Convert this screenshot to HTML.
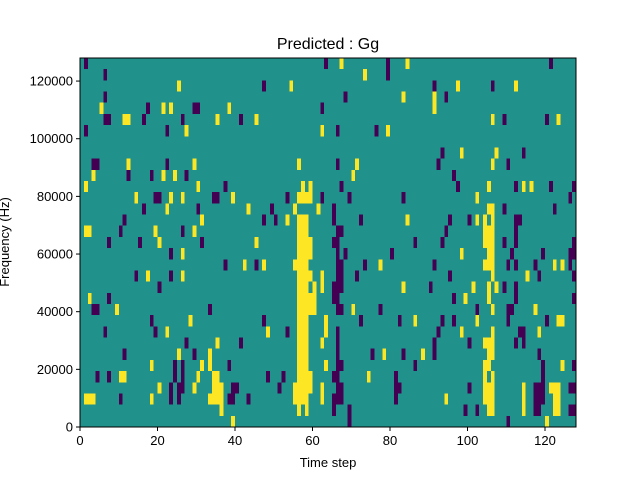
<!DOCTYPE html>
<html><head><meta charset="utf-8"><style>
body{margin:0;background:#fff;}
svg text{font-family:"Liberation Sans","DejaVu Sans",sans-serif;fill:#000;}
</style></head><body>
<svg id="chart" width="640" height="480" xmlns="http://www.w3.org/2000/svg">
<rect width="640" height="480" fill="#fff"/>
<text x="328" y="49" font-size="16" text-anchor="middle">Predicted : Gg</text>
<g id="cells"></g>
<g id="axes"></g>
<text x="328" y="467" font-size="13" text-anchor="middle">Time step</text>
<text transform="translate(9,242) rotate(-90)" font-size="13" text-anchor="middle">Frequency (Hz)</text>
</svg>
<script>
// data: [rowFromTop, colStart, colEnd]
const nSteps = 128;
const nBins = 33;
const freqMax = 128000;
const xTicks = [0,20,40,60,80,100,120];
const yTicks = [0,20000,40000,60000,80000,100000,120000];
const yTickLabels = ["0","20000","40000","60000","80000","100000","120000"];
const purpleCells = [
[0,1,1],[0,63,63],[0,79,79],[0,121,121],[1,6,6],[1,79,79],[2,47,47],[2,91,91],[2,106,106],[3,6,6],[3,68,68],[3,94,94],
[4,17,17],[4,29,30],[4,62,62],[5,6,7],[5,16,16],[5,26,26],[5,41,41],[5,109,109],[5,120,120],[6,1,1],[6,22,22],[6,66,66],[6,76,76],
[8,93,93],[8,114,114],[9,3,4],[9,22,22],[9,66,66],[9,92,92],[9,110,110],[10,12,12],[10,18,18],[10,27,27],[10,96,96],
[11,37,37],[11,67,67],[11,97,97],[11,112,112],[11,121,121],[11,127,127],[12,19,20],[12,34,35],[12,53,53],[12,62,62],[12,69,69],[12,83,83],[12,126,126],
[13,16,16],[13,30,30],[13,49,49],[13,65,65],[13,109,109],[13,122,122],[14,11,11],[14,47,47],[14,50,50],[14,65,65],[14,72,72],[14,95,95],[14,100,100],[14,112,113],
[15,10,10],[15,26,26],[15,66,67],[15,94,94],[15,112,112],[16,7,7],[16,15,15],[16,31,31],[16,65,66],[16,86,86],[16,93,93],[16,109,109],[16,112,112],[16,127,127],
[17,23,23],[17,66,66],[17,68,68],[17,80,80],[17,111,111],[17,119,119],[17,126,127],[18,37,37],[18,45,45],[18,66,67],[18,73,73],[18,91,91],[18,110,110],[18,112,112],[18,117,117],[18,126,126],
[19,14,14],[19,23,23],[19,66,67],[19,71,71],[19,95,95],[19,118,118],[19,127,127],[20,20,20],[20,65,67],[20,90,90],[20,109,109],[20,112,112],
[21,7,7],[21,65,66],[21,96,96],[21,112,112],[21,127,127],[22,3,4],[22,33,33],[22,66,67],[22,77,77],[22,102,102],[22,110,111],
[23,18,18],[23,47,47],[23,72,72],[23,82,82],[23,93,93],[23,96,96],[23,110,110],[23,120,120],[24,6,6],[24,19,19],[24,53,53],[24,66,66],[24,92,92],[24,113,114],
[25,27,27],[25,41,41],[25,66,66],[25,91,91],[25,100,100],[25,112,112],[25,114,114],[26,11,11],[26,29,29],[26,66,66],[26,75,75],[26,83,83],[26,91,91],[26,118,118],
[27,24,24],[27,26,26],[27,38,38],[27,66,67],[27,86,86],[27,119,119],[27,127,127],[28,4,4],[28,7,7],[28,24,24],[28,26,26],[28,48,48],[28,52,52],[28,65,66],[28,81,81],[28,119,119],
[29,23,23],[29,25,26],[29,39,40],[29,51,51],[29,66,67],[29,81,82],[29,100,100],[29,117,119],[29,126,127],[30,10,10],[30,23,23],[30,25,25],[30,38,39],[30,43,43],[30,65,67],[30,81,81],[30,117,119],
[31,65,65],[31,69,69],[31,99,99],[31,102,102],[31,117,118],[31,126,127],[32,69,69],[32,110,110]
];
const yellowCells = [
[0,67,67],[0,84,84],[1,73,73],[2,25,25],[2,54,54],[2,97,97],[2,112,112],[3,83,83],[3,91,91],[4,5,5],[4,21,21],[4,23,23],[4,38,38],[4,91,91],
[5,11,12],[5,35,35],[5,45,45],[5,106,106],[5,123,123],[6,27,27],[6,62,62],[6,79,79],[8,98,98],[8,107,107],[9,12,12],[9,29,29],[9,56,56],[9,71,71],[9,106,106],
[10,3,3],[10,21,21],[10,24,24],[10,70,70],[11,1,1],[11,30,30],[11,57,57],[11,59,59],[11,105,105],[11,114,114],[11,116,116],[12,14,14],[12,23,23],[12,26,26],[12,39,39],[12,56,59],[12,102,102],
[13,22,22],[13,43,43],[13,55,55],[13,61,61],[13,105,106],[14,31,31],[14,53,53],[14,56,58],[14,84,84],[14,102,102],[14,104,104],[14,106,106],
[15,1,2],[15,19,19],[15,29,29],[15,56,58],[15,104,106],[16,20,20],[16,45,45],[16,56,59],[16,104,106],[17,26,26],[17,56,59],[17,98,98],[17,105,106],
[18,42,42],[18,47,47],[18,55,58],[18,77,77],[18,104,106],[18,122,122],[18,124,124],[19,17,17],[19,26,26],[19,56,59],[19,62,62],[19,106,106],[19,115,115],
[20,56,58],[20,60,60],[20,62,62],[20,83,83],[20,101,101],[20,105,105],[20,107,107],[21,2,2],[21,56,60],[21,99,99],[21,105,105],[22,9,9],[22,56,60],[22,70,70],[22,106,106],[22,117,117],
[23,28,28],[23,56,58],[23,63,63],[23,86,86],[23,102,102],[23,123,124],[24,22,22],[24,48,48],[24,56,58],[24,63,63],[24,98,98],[24,106,106],[24,118,118],
[25,35,35],[25,56,58],[25,62,62],[25,104,106],[26,25,25],[26,33,33],[26,56,58],[26,78,78],[26,88,88],[26,105,106],[27,18,18],[27,31,31],[27,33,33],[27,56,58],[27,63,63],[27,104,105],[27,124,124],
[28,10,11],[28,30,30],[28,34,35],[28,56,59],[28,74,74],[28,104,104],[28,106,106],[29,20,20],[29,29,29],[29,34,36],[29,55,59],[29,62,62],[29,104,106],[29,114,114],[29,121,123],
[30,1,3],[30,18,18],[30,33,36],[30,55,58],[30,62,62],[30,94,94],[30,104,106],[30,114,114],[30,122,123],[31,36,36],[31,56,56],[31,58,58],[31,105,106],[31,114,114],[31,122,123],
[32,39,39],[32,120,120]
];
const L=80,R=576,T=58,B=427;
const NS="http://www.w3.org/2000/svg";
const xs = v => L + (v/nSteps)*(R-L);
const ys = f => B - (f/freqMax)*(B-T);
const rowH = freqMax/nBins;
const rowTop = r => ys(freqMax - r*rowH);
const cells = document.getElementById('cells');
function rect(x,y,w,h,fill){const e=document.createElementNS(NS,'rect');e.setAttribute('x',x);e.setAttribute('y',y);e.setAttribute('width',w);e.setAttribute('height',h);e.setAttribute('fill',fill);e.setAttribute('shape-rendering','crispEdges');return e;}
const bg = rect(L,T,R-L,B-T,'#21918c');


cells.appendChild(bg);
function drawCells(list,color,name){
  list.forEach(c=>{
    const y0=rowTop(c[0]), y1=rowTop(c[0]+1);
    const e=rect(xs(c[1]),y0,xs(c[2]+1)-xs(c[1]),y1-y0,color);
    
    
    cells.appendChild(e);
  });
}
drawCells(purpleCells,'#440154','heatmap-cell-low');
drawCells(yellowCells,'#fde725','heatmap-cell-high');
const axes=document.getElementById('axes');
const frame=rect(L,T,R-L,B-T,'none');
frame.setAttribute('stroke','#000');frame.setAttribute('stroke-width','1');


axes.appendChild(frame);
function line(x1,y1,x2,y2){const e=document.createElementNS(NS,'line');e.setAttribute('x1',x1);e.setAttribute('y1',y1);e.setAttribute('x2',x2);e.setAttribute('y2',y2);e.setAttribute('stroke','#000');return e;}
function text(x,y,s,anchor){const e=document.createElementNS(NS,'text');e.setAttribute('x',x);e.setAttribute('y',y);e.setAttribute('font-size','13');e.setAttribute('text-anchor',anchor);e.textContent=s;return e;}
xTicks.forEach(v=>{
  const x=xs(v);
  const t=line(x,B,x,B+4);
  
  
  axes.appendChild(t);
  const l=text(x,B+18,String(v),'middle');
  
  
  axes.appendChild(l);
});
yTicks.forEach((v,i)=>{
  const y=ys(v);
  const t=line(L-4,y,L,y);
  
  
  axes.appendChild(t);
  const l=text(L-7,y+4.5,yTickLabels[i],'end');
  
  
  axes.appendChild(l);
});
</script>
</body></html>
